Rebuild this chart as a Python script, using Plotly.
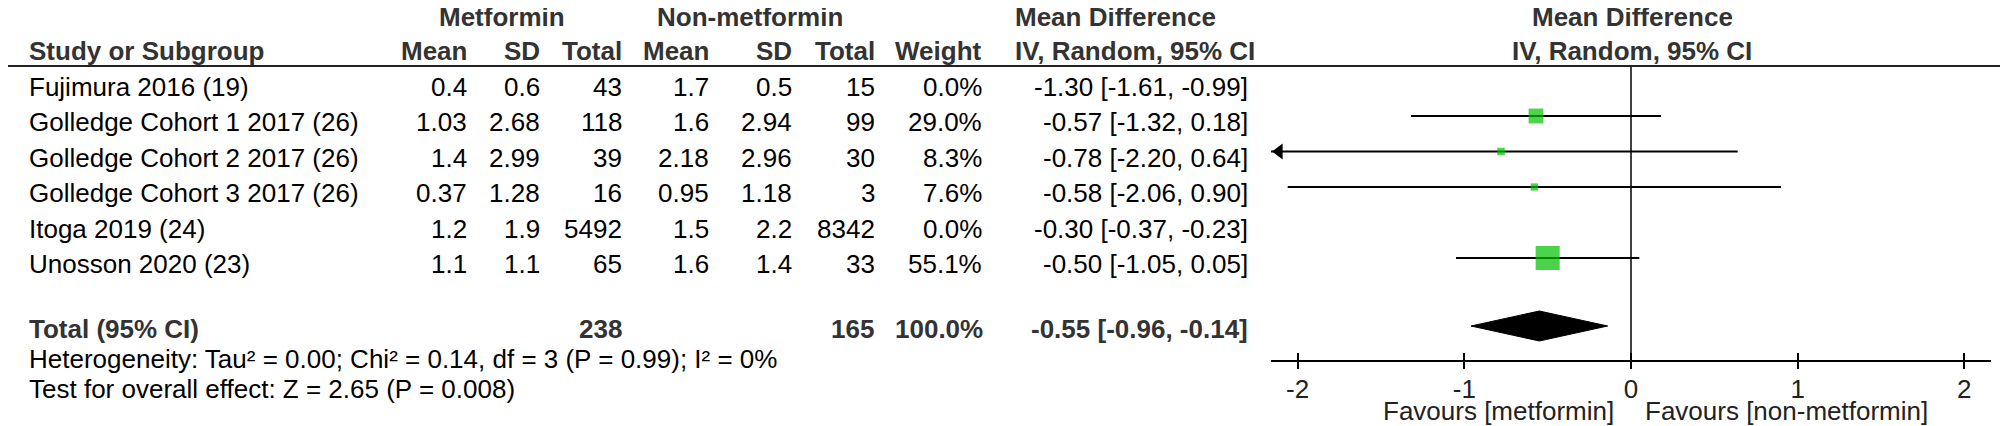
import plotly.graph_objects as go

# ---- data ----
studies = [
    "Fujimura 2016 (19)",
    "Golledge Cohort 1 2017 (26)",
    "Golledge Cohort 2 2017 (26)",
    "Golledge Cohort 3 2017 (26)",
    "Itoga 2019 (24)",
    "Unosson 2020 (23)",
]
met_mean = [0.4, 1.03, 1.4, 0.37, 1.2, 1.1]
met_sd = [0.6, 2.68, 2.99, 1.28, 1.9, 1.1]
met_total = [43, 118, 39, 16, 5492, 65]
non_mean = [1.7, 1.6, 2.18, 0.95, 1.5, 1.6]
non_sd = [0.5, 2.94, 2.96, 1.18, 2.2, 1.4]
non_total = [15, 99, 30, 3, 8342, 33]
weight = [0.0, 29.0, 8.3, 7.6, 0.0, 55.1]
md = [-1.30, -0.57, -0.78, -0.58, -0.30, -0.50]
ci_lo = [-1.61, -1.32, -2.20, -2.06, -0.37, -1.05]
ci_hi = [-0.99, 0.18, 0.64, 0.90, -0.23, 0.05]

total_met = 238
total_non = 165
total_weight = 100.0
total_md = -0.55
total_lo = -0.96
total_hi = -0.14

heterogeneity = "Heterogeneity: Tau² = 0.00; Chi² = 0.14, df = 3 (P = 0.99); I² = 0%"
overall_test = "Test for overall effect: Z = 2.65 (P = 0.008)"

tick_vals = [-2, -1, 0, 1, 2]
tick_text = ["-2", "-1", "0", "1", "2"]
favours_left = "Favours [metformin]"
favours_right = "Favours [non-metformin]"

# ---- layout geometry (pixels) ----
W, H = 2008, 426
ROW0_PX, ROW_PX = 72.5, 35.5      # first study row, row pitch
AXIS_MIN, AXIS_MAX = -2.16, 2.16
AXIS_X0, AXIS_X1 = 1263, 1983
AXIS_Y_PX = 353
HEADER_LINE_PX = 58
TOTAL_ROW = (318 - ROW0_PX) / ROW_PX
TEXT_DY = -4                      # plotly draws middle-anchored text a bit low
FONT = "Liberation Sans, Arial, sans-serif"
FS = 26
GREEN = "#00c000"


def row(px):
    return (px + TEXT_DY - ROW0_PX) / ROW_PX


def mark_row(px):
    return (px - ROW0_PX) / ROW_PX


def xp(px):
    return px / W


rows = list(range(len(studies)))
fig = go.Figure()

# confidence interval lines (studies with weight only), arrow when clipped
ci_x, ci_y, arrow_x, arrow_y = [], [], [], []
for r, w, lo, hi in zip(rows, weight, ci_lo, ci_hi):
    if w <= 0:
        continue
    ci_x += [max(lo, AXIS_MIN), min(hi, AXIS_MAX), None]
    ci_y += [r, r, None]
    if lo < AXIS_MIN:
        arrow_x.append(AXIS_MIN + 8.1 / (AXIS_X1 - AXIS_X0) * (AXIS_MAX - AXIS_MIN))
        arrow_y.append(r)

fig.add_trace(go.Scatter(x=ci_x, y=ci_y, mode="lines",
                         line=dict(color="black", width=2), cliponaxis=False))
fig.add_trace(go.Scatter(x=arrow_x, y=arrow_y, mode="markers", cliponaxis=False,
                         marker=dict(symbol="triangle-left", size=14, color="black")))

# weight squares, side grows linearly with weight
sq = [(m, r, 4.6 + 0.353 * w) for m, r, w in zip(md, rows, weight) if w > 0]
fig.add_trace(go.Scatter(
    x=[s[0] for s in sq], y=[s[1] for s in sq], mode="markers",
    marker=dict(symbol="square", size=[s[2] for s in sq], color=GREEN, line=dict(width=0)),
))

# pooled diamond
dh = 15 / ROW_PX
fig.add_trace(go.Scatter(
    x=[total_lo, total_md, total_hi, total_md, total_lo],
    y=[TOTAL_ROW, TOTAL_ROW - dh, TOTAL_ROW, TOTAL_ROW + dh, TOTAL_ROW],
    mode="lines", fill="toself", fillcolor="black", line=dict(color="black", width=1),
))

# line of no effect
fig.add_trace(go.Scatter(x=[0, 0], y=[mark_row(HEADER_LINE_PX), mark_row(AXIS_Y_PX)],
                         mode="lines", line=dict(color="black", width=1.5), xaxis="x2"))

annotations = []


def add_text(x_px, y, text, anchor="right", bold=False, color="#000000"):
    annotations.append(dict(
        x=xp(x_px), xref="paper", y=y, yref="y", text=f"<b>{text}</b>" if bold else text,
        xanchor=anchor, yanchor="middle", showarrow=False, borderpad=0,
        font=dict(family=FONT, size=FS, color="#333333" if bold else color),
    ))


# headers
hy1, hy2 = row(13), row(47)
add_text(494, hy1, "Metformin", "center", True)
add_text(742, hy1, "Non-metformin", "center", True)
add_text(1006, hy1, "Mean Difference", "left", True)
add_text(1624, hy1, "Mean Difference", "center", True)
add_text(20, hy2, "Study or Subgroup", "left", True)
for x_px, label in [(460, "Mean"), (533, "SD"), (615, "Total"), (702, "Mean"),
                    (785, "SD"), (868, "Total"), (975, "Weight")]:
    add_text(x_px, hy2, label, "right", True)
add_text(1006, hy2, "IV, Random, 95% CI", "left", True)
add_text(1624, hy2, "IV, Random, 95% CI", "center", True)

# study rows
for i, r in enumerate(rows):
    y = row(ROW0_PX + r * ROW_PX + 10)
    add_text(20, y, studies[i], "left")
    add_text(460, y, f"{met_mean[i]}")
    add_text(533, y, f"{met_sd[i]}")
    add_text(615, y, f"{met_total[i]}")
    add_text(702, y, f"{non_mean[i]}")
    add_text(785, y, f"{non_sd[i]}")
    add_text(868, y, f"{non_total[i]}")
    add_text(975, y, f"{weight[i]:.1f}%")
    add_text(1241, y, f"{md[i]:.2f} [{ci_lo[i]:.2f}, {ci_hi[i]:.2f}]")

# total row
ty = row(325)
add_text(20, ty, "Total (95% CI)", "left", True)
add_text(615, ty, f"{total_met}", "right", True)
add_text(867, ty, f"{total_non}", "right", True)
add_text(976, ty, f"{total_weight:.1f}%", "right", True)
add_text(1241, ty, f"{total_md:.2f} [{total_lo:.2f}, {total_hi:.2f}]", "right", True)

add_text(20, row(355), heterogeneity, "left")
add_text(20, row(385), overall_test, "left")

# favours labels under the axis
for text, anchor, shift in [(favours_left, "right", -16), (favours_right, "left", 13)]:
    annotations.append(dict(x=0, xref="x", y=row(407), yref="y", text=text,
                            xanchor=anchor, yanchor="middle", xshift=shift, showarrow=False,
                            borderpad=0, font=dict(family=FONT, size=FS, color="#222222")))

axis_pos = 1 - AXIS_Y_PX / H
dom = [AXIS_X0 / W, AXIS_X1 / W]

fig.update_layout(
    width=W, height=H,
    margin=dict(l=0, r=0, t=0, b=0),
    paper_bgcolor="white", plot_bgcolor="white",
    showlegend=False,
    annotations=annotations,
    shapes=[dict(type="line", xref="paper", x0=0, x1=1, yref="y",
                 y0=mark_row(HEADER_LINE_PX), y1=mark_row(HEADER_LINE_PX),
                 line=dict(color="#222222", width=2))],
    xaxis=dict(domain=dom, range=[AXIS_MIN, AXIS_MAX], anchor="free", position=axis_pos,
               showline=True, linecolor="black", linewidth=2,
               ticks="outside", ticklen=7, tickwidth=2, tickcolor="black",
               tickvals=tick_vals, ticktext=tick_text, ticklabelstandoff=-2,
               tickfont=dict(family=FONT, size=FS, color="#222222"),
               showgrid=False, zeroline=False, automargin=False, fixedrange=True),
    xaxis2=dict(domain=dom, overlaying="x", matches="x", anchor="free", position=axis_pos,
                showline=False, ticks="inside", ticklen=8, tickwidth=2, tickcolor="black",
                tickvals=tick_vals, showticklabels=False,
                showgrid=False, zeroline=False, automargin=False, fixedrange=True),
    yaxis=dict(domain=[0, 1], range=[mark_row(H), mark_row(0)], visible=False,
               fixedrange=True),
)

fig.write_html("out.html")
